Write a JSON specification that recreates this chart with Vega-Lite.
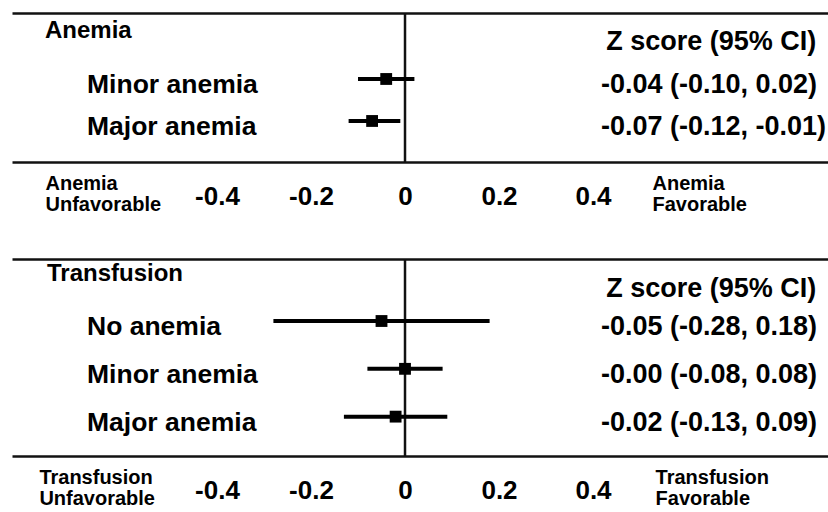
{
  "$schema": "https://vega.github.io/schema/vega-lite/v6.json",
  "background": "white",
  "padding": {"left": 12, "top": 11, "right": 0, "bottom": 0},
  "bounds": "flush",
  "spacing": 97,
  "resolve": {"scale": {"x": "independent", "y": "independent"}},
  "config": {
    "view": {"stroke": null},
    "text": {"font": "Liberation Sans", "fontWeight": "bold", "color": "black"}
  },
  "datasets": {
    "rows": [
      {"panel": "Anemia", "row": "Minor anemia", "est": -0.04, "lo": -0.10, "hi": 0.02, "ci": "-0.04 (-0.10, 0.02)"},
      {"panel": "Anemia", "row": "Major anemia", "est": -0.07, "lo": -0.12, "hi": -0.01, "ci": "-0.07 (-0.12, -0.01)"},
      {"panel": "Transfusion", "row": "No anemia", "est": -0.05, "lo": -0.28, "hi": 0.18, "ci": "-0.05 (-0.28, 0.18)"},
      {"panel": "Transfusion", "row": "Minor anemia", "est": -0.00, "lo": -0.08, "hi": 0.08, "ci": "-0.00 (-0.08, 0.08)"},
      {"panel": "Transfusion", "row": "Major anemia", "est": -0.02, "lo": -0.13, "hi": 0.09, "ci": "-0.02 (-0.13, 0.09)"}
    ],
    "headers": [
      {"panel": "Anemia", "row": "header", "heading": "Anemia", "title": "Z score (95% CI)"},
      {"panel": "Transfusion", "row": "header", "heading": "Transfusion", "title": "Z score (95% CI)"}
    ]
  },
  "vconcat": [
    {
      "width": 816,
      "height": 149,
      "resolve": {"axis": {"x": "independent"}},
      "layer": [
        {
          "data": {"name": "headers"},
          "transform": [{"filter": "datum.panel === 'Anemia'"}],
          "mark": {"type": "rule", "color": "#111", "strokeWidth": 2.5},
          "encoding": {
            "x": {"datum": 0, "type": "quantitative",
              "scale": {"domain": [-0.8362, 0.9], "zero": false, "nice": false},
              "axis": {"orient": "top", "labels": false, "ticks": false, "grid": false, "title": null, "domain": true, "domainColor": "#111", "domainWidth": 2.5}}
          }
        },
        {
          "data": {"name": "rows"},
          "transform": [{"filter": "datum.panel === 'Anemia'"}],
          "mark": {"type": "rule", "color": "black", "strokeWidth": 4},
          "encoding": {
            "x": {"field": "lo", "type": "quantitative",
              "axis": {"orient": "bottom", "title": null, "grid": false, "ticks": false, "tickSize": 0,
                "domain": true, "domainColor": "#111", "domainWidth": 2.5,
                "values": [-0.766, -0.4, -0.2, 0, 0.2, 0.4, 0.5255],
                "labelExpr": "datum.value < -0.5 ? ['Anemia', 'Unfavorable'] : datum.value > 0.5 ? ['Anemia', 'Favorable'] : datum.value + ''",
                "labelFont": "Liberation Sans", "labelFontWeight": "bold", "labelColor": "black",
                "labelFontSize": {"condition": {"test": "abs(datum.value) > 0.5", "value": 20}, "value": 26},
                "labelAlign": {"condition": {"test": "abs(datum.value) > 0.5", "value": "left"}, "value": "center"},
                "labelBaseline": {"condition": {"test": "abs(datum.value) > 0.5", "value": "middle"}, "value": "top"},
                "labelLineHeight": 21, "labelPadding": 21, "labelFlush": false, "labelOverlap": false, "labelBound": false}},
            "x2": {"field": "hi"},
            "y": {"field": "row", "type": "nominal",
              "scale": {"type": "point", "domain": ["header", "Minor anemia", "Major anemia"], "padding": 0.774, "align": 0.369},
              "axis": null}
          }
        },
        {
          "data": {"name": "rows"},
          "transform": [{"filter": "datum.panel === 'Anemia'"}],
          "mark": {"type": "point", "shape": "square", "filled": true, "size": 140, "color": "black", "opacity": 1},
          "encoding": {
            "x": {"field": "est", "type": "quantitative", "axis": null},
            "y": {"field": "row", "type": "nominal", "axis": null}
          }
        },
        {
          "data": {"name": "rows"},
          "transform": [{"filter": "datum.panel === 'Anemia'"}],
          "mark": {"type": "text", "align": "left", "baseline": "middle", "fontSize": 26.5, "dy": 6},
          "encoding": {
            "x": {"datum": -0.6766, "type": "quantitative", "axis": null},
            "y": {"field": "row", "type": "nominal", "axis": null},
            "text": {"field": "row"}
          }
        },
        {
          "data": {"name": "rows"},
          "transform": [{"filter": "datum.panel === 'Anemia'"}],
          "mark": {"type": "text", "align": "left", "baseline": "middle", "fontSize": 27, "dy": 6},
          "encoding": {
            "x": {"datum": 0.417, "type": "quantitative", "axis": null},
            "y": {"field": "row", "type": "nominal", "axis": null},
            "text": {"field": "ci"}
          }
        },
        {
          "data": {"name": "headers"},
          "transform": [{"filter": "datum.panel === 'Anemia'"}],
          "mark": {"type": "text", "align": "left", "baseline": "middle", "fontSize": 24, "dy": -6},
          "encoding": {
            "x": {"datum": -0.766, "type": "quantitative", "axis": null},
            "y": {"field": "row", "type": "nominal", "axis": null},
            "text": {"field": "heading"}
          }
        },
        {
          "data": {"name": "headers"},
          "transform": [{"filter": "datum.panel === 'Anemia'"}],
          "mark": {"type": "text", "align": "left", "baseline": "middle", "fontSize": 27, "dy": 5.5},
          "encoding": {
            "x": {"datum": 0.428, "type": "quantitative", "axis": null},
            "y": {"field": "row", "type": "nominal", "axis": null},
            "text": {"field": "title"}
          }
        }
      ]
    },
    {
      "width": 816,
      "height": 197,
      "resolve": {"axis": {"x": "independent"}},
      "layer": [
        {
          "data": {"name": "headers"},
          "transform": [{"filter": "datum.panel === 'Transfusion'"}],
          "mark": {"type": "rule", "color": "#111", "strokeWidth": 2.5},
          "encoding": {
            "x": {"datum": 0, "type": "quantitative",
              "scale": {"domain": [-0.8362, 0.9], "zero": false, "nice": false},
              "axis": {"orient": "top", "labels": false, "ticks": false, "grid": false, "title": null, "domain": true, "domainColor": "#111", "domainWidth": 2.5}}
          }
        },
        {
          "data": {"name": "rows"},
          "transform": [{"filter": "datum.panel === 'Transfusion'"}],
          "mark": {"type": "rule", "color": "black", "strokeWidth": 4},
          "encoding": {
            "x": {"field": "lo", "type": "quantitative",
              "axis": {"orient": "bottom", "title": null, "grid": false, "ticks": false, "tickSize": 0,
                "domain": true, "domainColor": "#111", "domainWidth": 2.5,
                "values": [-0.779, -0.4, -0.2, 0, 0.2, 0.4, 0.532],
                "labelExpr": "datum.value < -0.5 ? ['Transfusion', 'Unfavorable'] : datum.value > 0.5 ? ['Transfusion', 'Favorable'] : datum.value + ''",
                "labelFont": "Liberation Sans", "labelFontWeight": "bold", "labelColor": "black",
                "labelFontSize": {"condition": {"test": "abs(datum.value) > 0.5", "value": 20}, "value": 26},
                "labelAlign": {"condition": {"test": "abs(datum.value) > 0.5", "value": "left"}, "value": "center"},
                "labelBaseline": {"condition": {"test": "abs(datum.value) > 0.5", "value": "middle"}, "value": "top"},
                "labelLineHeight": 21, "labelPadding": 21, "labelFlush": false, "labelOverlap": false, "labelBound": false}},
            "x2": {"field": "hi"},
            "y": {"field": "row", "type": "nominal",
              "scale": {"type": "point", "domain": ["header", "No anemia", "Minor anemia", "Major anemia"], "padding": 0.56, "align": 0.265},
              "axis": null}
          }
        },
        {
          "data": {"name": "rows"},
          "transform": [{"filter": "datum.panel === 'Transfusion'"}],
          "mark": {"type": "point", "shape": "square", "filled": true, "size": 140, "color": "black", "opacity": 1},
          "encoding": {
            "x": {"field": "est", "type": "quantitative", "axis": null},
            "y": {"field": "row", "type": "nominal", "axis": null}
          }
        },
        {
          "data": {"name": "rows"},
          "transform": [{"filter": "datum.panel === 'Transfusion'"}],
          "mark": {"type": "text", "align": "left", "baseline": "middle", "fontSize": 26.5, "dy": 6},
          "encoding": {
            "x": {"datum": -0.6766, "type": "quantitative", "axis": null},
            "y": {"field": "row", "type": "nominal", "axis": null},
            "text": {"field": "row"}
          }
        },
        {
          "data": {"name": "rows"},
          "transform": [{"filter": "datum.panel === 'Transfusion'"}],
          "mark": {"type": "text", "align": "left", "baseline": "middle", "fontSize": 27, "dy": 6},
          "encoding": {
            "x": {"datum": 0.417, "type": "quantitative", "axis": null},
            "y": {"field": "row", "type": "nominal", "axis": null},
            "text": {"field": "ci"}
          }
        },
        {
          "data": {"name": "headers"},
          "transform": [{"filter": "datum.panel === 'Transfusion'"}],
          "mark": {"type": "text", "align": "left", "baseline": "middle", "fontSize": 24, "dy": 1},
          "encoding": {
            "x": {"datum": -0.7617, "type": "quantitative", "axis": null},
            "y": {"field": "row", "type": "nominal", "axis": null},
            "text": {"field": "heading"}
          }
        },
        {
          "data": {"name": "headers"},
          "transform": [{"filter": "datum.panel === 'Transfusion'"}],
          "mark": {"type": "text", "align": "left", "baseline": "middle", "fontSize": 27, "dy": 15.8},
          "encoding": {
            "x": {"datum": 0.428, "type": "quantitative", "axis": null},
            "y": {"field": "row", "type": "nominal", "axis": null},
            "text": {"field": "title"}
          }
        }
      ]
    }
  ]
}
